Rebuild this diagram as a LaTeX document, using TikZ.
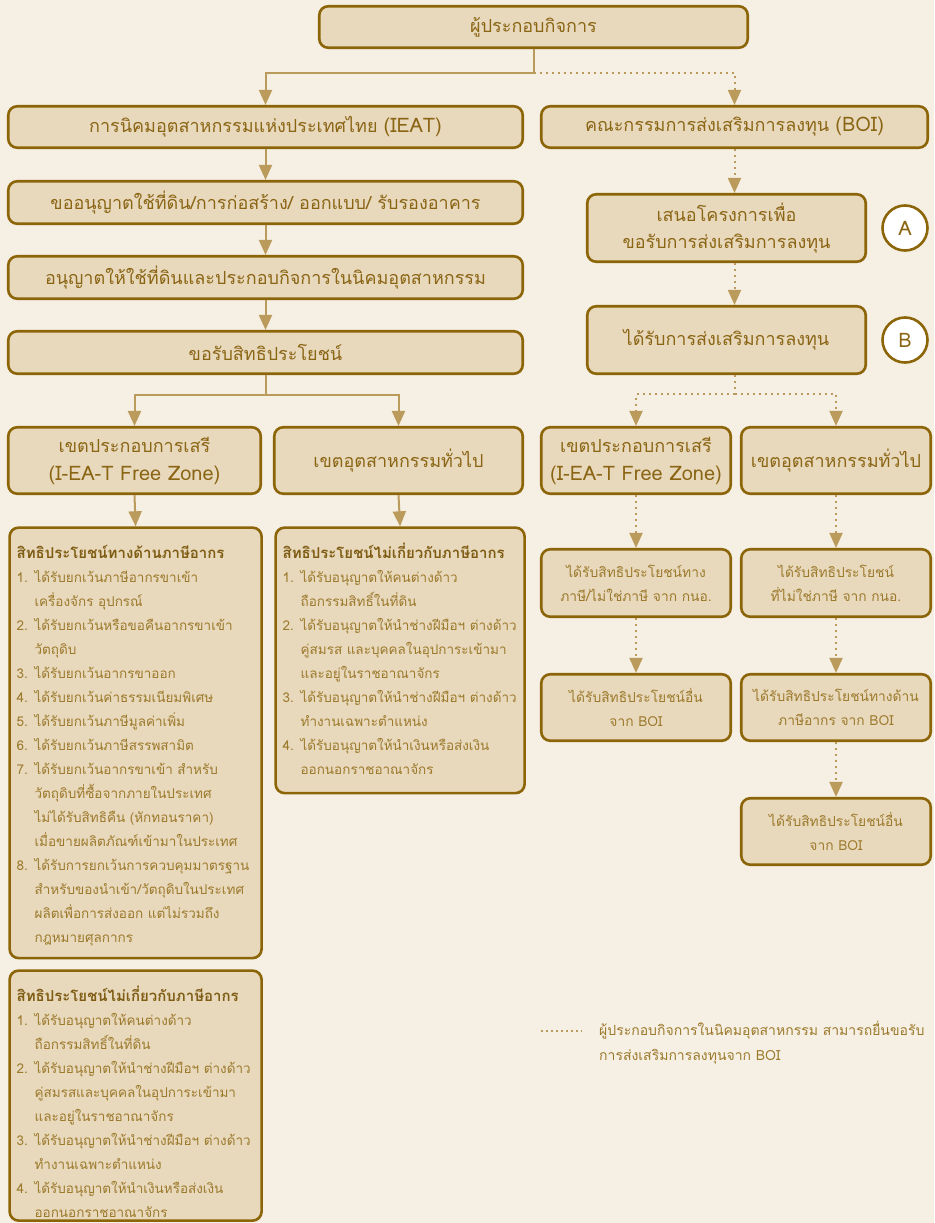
\documentclass[tikz,border=0pt]{standalone}
\usepackage{fontspec}
\setmainfont[Script=Thai]{Loma}
\usetikzlibrary{arrows.meta,calc}
\definecolor{bg}{HTML}{F6EFE3}
\definecolor{boxfill}{HTML}{E8D8BC}
\definecolor{border}{HTML}{8B6508}
\definecolor{arrowc}{HTML}{BB9B5C}
\definecolor{txt}{HTML}{8A6514}
\definecolor{ltxt}{HTML}{9C7A2C}
\definecolor{htxt}{HTML}{7E5C12}
\newcommand\hdline[1]{\rule{0pt}{31pt}{\color{htxt}\bfseries\fontsize{15}{24}\selectfont #1}\par}
\newcommand\litem[2]{\makebox[18pt][l]{#1}\mbox{#2}\par}
\newcommand\lcont[1]{\hspace*{18pt}\mbox{#1}\par}
\newcommand\listbody[3]{\parbox[t][#1][t]{#2}{\parindent=0pt\fontsize{13.5}{24}\selectfont #3}}
\newcommand\lat[1]{{\fontsize{20}{28}\selectfont #1}}
\begin{document}
\begin{tikzpicture}[x=1pt,y=-1pt,
  hbox/.style={draw=border, fill=boxfill, line width=2.6pt, rounded corners=9pt, inner sep=0pt, align=center, text=txt, font=\fontsize{18}{28}\selectfont},
  sbox/.style={hbox, text=ltxt, font=\fontsize{13.8}{24}\selectfont},
  lbox/.style={draw=border, fill=boxfill, line width=2.6pt, rounded corners=9pt, inner xsep=7pt, inner ysep=0pt, anchor=north west, text=ltxt},
  sline/.style={draw=arrowc, line width=2pt},
  conn/.style={sline, -{Triangle[width=13pt,length=15pt]}},
  dline/.style={draw=arrowc, line width=2pt, dash pattern=on 2pt off 4pt},
  dconn/.style={dline, -{Triangle[width=13pt,length=15pt]}},
  circ/.style={circle, draw=border, fill=white, line width=2.6pt, minimum size=45pt, inner sep=0pt, text=txt, font=\fontsize{20}{20}\selectfont}
]
\useasboundingbox (0,0) rectangle (934,1223);
\fill[bg] (0,0) rectangle (934,1223);

% left column
\node[hbox, minimum width=428.5pt, minimum height=41.5pt] (top) at (533.5,27) {ผู้ประกอบกิจการ};
\node[hbox, minimum width=514.5pt, minimum height=41.5pt] (ieat) at (265.5,127) {การนิคมอุตสาหกรรมแห่งประเทศไทย \lat{(IEAT)}};
\node[hbox, minimum width=386.5pt, minimum height=41.5pt] (boi) at (734.5,127) {คณะกรรมการส่งเสริมการลงทุน \lat{(BOI)}};
\node[hbox, minimum width=514.5pt, minimum height=42.5pt] (land) at (265.5,202.5) {ขออนุญาตใช้ที่ดิน/การก่อสร้าง/ ออกแบบ/ รับรองอาคาร};
\node[hbox, minimum width=514.5pt, minimum height=42.5pt] (perm) at (265.5,277.5) {อนุญาตให้ใช้ที่ดินและประกอบกิจการในนิคมอุตสาหกรรม};
\node[hbox, minimum width=514.5pt, minimum height=42.5pt] (ask) at (265.5,352.5) {ขอรับสิทธิประโยชน์};
\node[hbox, minimum width=252.5pt, minimum height=66.5pt] (lfz) at (134.5,460.5) {เขตประกอบการเสรี\\\lat{(I-EA-T Free Zone)}};
\node[hbox, minimum width=248.5pt, minimum height=66.5pt] (lgen) at (398.5,460.5) {เขตอุตสาหกรรมทั่วไป};

\node[lbox] (l1) at (8.3,526.3) {\listbody{430.5pt}{238pt}{%
\hdline{สิทธิประโยชน์ทางด้านภาษีอากร}
\litem{1.}{ได้รับยกเว้นภาษีอากรขาเข้า}
\lcont{เครื่องจักร อุปกรณ์}
\litem{2.}{ได้รับยกเว้นหรือขอคืนอากรขาเข้า}
\lcont{วัตถุดิบ}
\litem{3.}{ได้รับยกเว้นอากรขาออก}
\litem{4.}{ได้รับยกเว้นค่าธรรมเนียมพิเศษ}
\litem{5.}{ได้รับยกเว้นภาษีมูลค่าเพิ่ม}
\litem{6.}{ได้รับยกเว้นภาษีสรรพสามิต}
\litem{7.}{ได้รับยกเว้นอากรขาเข้า สำหรับ}
\lcont{วัตถุดิบที่ซื้อจากภายในประเทศ}
\lcont{ไม่ได้รับสิทธิคืน (หักทอนราคา)}
\lcont{เมื่อขายผลิตภัณฑ์เข้ามาในประเทศ}
\litem{8.}{ได้รับการยกเว้นการควบคุมมาตรฐาน}
\lcont{สำหรับของนำเข้า/วัตถุดิบในประเทศ}
\lcont{ผลิตเพื่อการส่งออก แต่ไม่รวมถึง}
\lcont{กฎหมายศุลกากร}}};

\node[lbox] (l2) at (274.3,526.3) {\listbody{265.5pt}{235pt}{%
\hdline{สิทธิประโยชน์ไม่เกี่ยวกับภาษีอากร}
\litem{1.}{ได้รับอนุญาตให้คนต่างด้าว}
\lcont{ถือกรรมสิทธิ์ในที่ดิน}
\litem{2.}{ได้รับอนุญาตให้นำช่างฝีมือฯ ต่างด้าว}
\lcont{คู่สมรส และบุคคลในอุปการะเข้ามา}
\lcont{และอยู่ในราชอาณาจักร}
\litem{3.}{ได้รับอนุญาตให้นำช่างฝีมือฯ ต่างด้าว}
\lcont{ทำงานเฉพาะตำแหน่ง}
\litem{4.}{ได้รับอนุญาตให้นำเงินหรือส่งเงิน}
\lcont{ออกนอกราชอาณาจักร}}};

\node[lbox] (l3) at (8.3,969.3) {\listbody{250pt}{238pt}{%
\hdline{สิทธิประโยชน์ไม่เกี่ยวกับภาษีอากร}
\litem{1.}{ได้รับอนุญาตให้คนต่างด้าว}
\lcont{ถือกรรมสิทธิ์ในที่ดิน}
\litem{2.}{ได้รับอนุญาตให้นำช่างฝีมือฯ ต่างด้าว}
\lcont{คู่สมรสและบุคคลในอุปการะเข้ามา}
\lcont{และอยู่ในราชอาณาจักร}
\litem{3.}{ได้รับอนุญาตให้นำช่างฝีมือฯ ต่างด้าว}
\lcont{ทำงานเฉพาะตำแหน่ง}
\litem{4.}{ได้รับอนุญาตให้นำเงินหรือส่งเงิน}
\lcont{ออกนอกราชอาณาจักร}}};

% right column
\node[hbox, minimum width=278.5pt, minimum height=67.5pt, font=\fontsize{18}{27}\selectfont] (prop) at (726.5,228) {เสนอโครงการเพื่อ\\ขอรับการส่งเสริมการลงทุน};
\node[circ] (ca) at (905,228) {A};
\node[hbox, minimum width=278.5pt, minimum height=67.5pt] (got) at (726.5,340) {ได้รับการส่งเสริมการลงทุน};
\node[circ] (cb) at (905,340) {B};
\node[hbox, minimum width=189.5pt, minimum height=66.5pt] (rfz) at (636,460.5) {เขตประกอบการเสรี\\\lat{(I-EA-T Free Zone)}};
\node[hbox, minimum width=189.5pt, minimum height=66.5pt] (rgen) at (836,460.5) {เขตอุตสาหกรรมทั่วไป};
\node[sbox, minimum width=189.5pt, minimum height=67.5pt] (r1) at (636,583) {ได้รับสิทธิประโยชน์ทาง\\ภาษี/ไม่ใช่ภาษี จาก กนอ.};
\node[sbox, minimum width=189.5pt, minimum height=67.5pt] (r2) at (836,583) {ได้รับสิทธิประโยชน์\\ที่ไม่ใช่ภาษี จาก กนอ.};
\node[sbox, minimum width=189.5pt, minimum height=66.5pt] (r3) at (636,707.5) {ได้รับสิทธิประโยชน์อื่น\\จาก BOI};
\node[sbox, minimum width=189.5pt, minimum height=66.5pt] (r4) at (836,707.5) {ได้รับสิทธิประโยชน์ทางด้าน\\ภาษีอากร จาก BOI};
\node[sbox, minimum width=189.5pt, minimum height=66.5pt] (r5) at (836,831.5) {ได้รับสิทธิประโยชน์อื่น\\จาก BOI};

% connectors left
\coordinate (j1) at (533.5,73);
\draw[sline] (top.south) -- (j1);
\draw[conn] (j1) -| (ieat.north);
\draw[dconn] (j1) -| (boi.north);
\draw[conn] (ieat.south) -- (land.north);
\draw[conn] (land.south) -- (perm.north);
\draw[conn] (perm.south) -- (ask.north);
\coordinate (jL) at (265.5,395);
\draw[sline] (ask.south) -- (jL);
\draw[conn] (jL) -| (lfz.north);
\draw[conn] (jL) -| (lgen.north);
\draw[conn] (lfz.south) -- (l1.north);
\draw[conn] (lgen.south) -- (l2.north);

% connectors right
\draw[dconn] (boi.south) -- (boi.south |- prop.north);
\draw[dconn] (prop.south -| boi.south) -- (boi.south |- got.north);
\coordinate (jR) at (734.5,394);
\draw[dline] (got.south -| boi.south) -- (jR);
\draw[dconn] (jR) -| (rfz.north);
\draw[dconn] (jR) -| (rgen.north);
\draw[dconn] (rfz.south) -- (r1.north);
\draw[dconn] (rgen.south) -- (r2.north);
\draw[dconn] (r1.south) -- (r3.north);
\draw[dconn] (r2.south) -- (r4.north);
\draw[dconn] (r4.south) -- (r5.north);

% legend
\coordinate (lg1) at (541,1031);
\coordinate (lg2) at (582,1031);
\draw[dline, line width=1.8pt, dash pattern=on 1.8pt off 3.2pt] (lg1) -- (lg2);
\node[anchor=north west, align=left, inner sep=0pt, text=ltxt, font=\fontsize{14}{25}\selectfont] (lgt) at (599,1021) {ผู้ประกอบกิจการในนิคมอุตสาหกรรม สามารถยื่นขอรับ\\การส่งเสริมการลงทุนจาก BOI};
\end{tikzpicture}
\end{document}
